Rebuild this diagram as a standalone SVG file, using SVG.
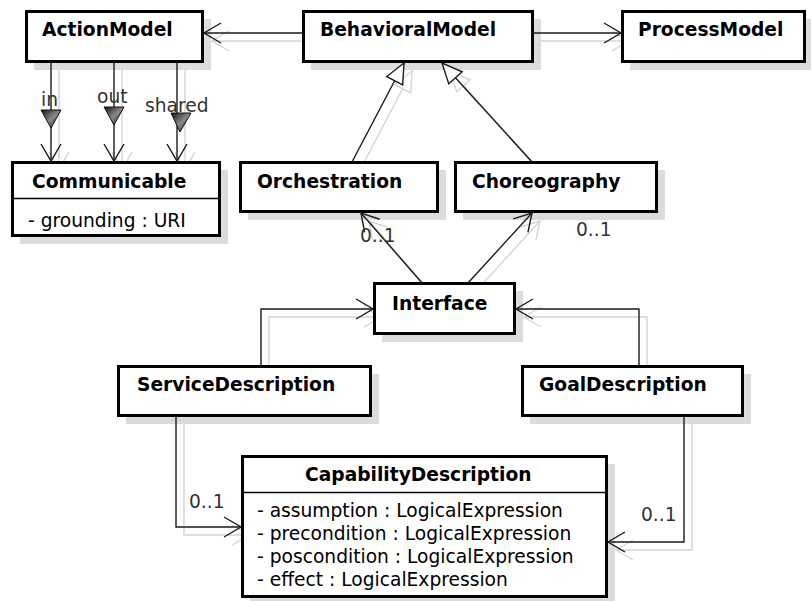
<svg xmlns="http://www.w3.org/2000/svg" width="811" height="601" viewBox="0 0 811 601">
<style>
  .box { fill: #fff; stroke: #000; stroke-width: 3; }
  .shadow { fill: #dcdcdc; }
  .name { font-family: "DejaVu Sans", Verdana, sans-serif; font-weight: bold; font-size: 18.67px; fill: #000; }
  .attr { font-family: "DejaVu Sans", Verdana, sans-serif; font-size: 18.67px; fill: #000; }
  .lbl { font-family: "DejaVu Sans", Verdana, sans-serif; font-size: 18.67px; fill: #333; }
  .div { stroke: #000; stroke-width: 1.5; }
  .conn { fill: none; stroke: #1a1a1a; stroke-width: 1.4; }
  .sconn { fill: none; stroke: #d4d4d4; stroke-width: 1.4; }
</style>
<defs>
  <marker id="open" viewBox="-20 -12 22 24" refX="0" refY="0" markerWidth="22" markerHeight="24" markerUnits="userSpaceOnUse" orient="auto">
    <path d="M-17,-10 L0,0 L-17,10" fill="none" stroke="#1a1a1a" stroke-width="1.4"/>
  </marker>
  <marker id="openS" viewBox="-20 -12 22 24" refX="0" refY="0" markerWidth="22" markerHeight="24" markerUnits="userSpaceOnUse" orient="auto">
    <path d="M-17,-10 L0,0 L-17,10" fill="none" stroke="#d4d4d4" stroke-width="1.4"/>
  </marker>
  <marker id="gen" viewBox="-22 -11 24 22" refX="0" refY="0" markerWidth="24" markerHeight="22" markerUnits="userSpaceOnUse" orient="auto">
    <path d="M0,0 L-20,-9 L-20,9 Z" fill="#fff" stroke="#1a1a1a" stroke-width="1.4"/>
  </marker>
  <marker id="genS" viewBox="-22 -11 24 22" refX="0" refY="0" markerWidth="24" markerHeight="22" markerUnits="userSpaceOnUse" orient="auto">
    <path d="M0,0 L-20,-9 L-20,9 Z" fill="#fff" stroke="#d4d4d4" stroke-width="1.4"/>
  </marker>
  <linearGradient id="tri" x1="0" y1="0" x2="1" y2="1">
    <stop offset="0" stop-color="#111"/>
    <stop offset="0.5" stop-color="#888"/>
    <stop offset="1" stop-color="#222"/>
  </linearGradient>
</defs>
<rect width="811" height="601" fill="#fff"/>

<g id="connector-shadows" transform="translate(8,8)">
  <path class="sconn" d="M303,33 L204,33" marker-end="url(#openS)"/>
  <path class="sconn" d="M533,33 L621,33" marker-end="url(#openS)"/>
  <path class="sconn" d="M51,62 L51,161" marker-end="url(#openS)"/>
  <path class="sconn" d="M114,62 L114,161" marker-end="url(#openS)"/>
  <path class="sconn" d="M177,62 L177,161" marker-end="url(#openS)"/>
  <path class="sconn" d="M352,162 L404,63" marker-end="url(#genS)"/>
  <path class="sconn" d="M532,162 L442,63" marker-end="url(#genS)"/>
  <path class="sconn" d="M422,283 L361,213" marker-end="url(#openS)"/>
  <path class="sconn" d="M468,283 L532,213" marker-end="url(#openS)"/>
  <path class="sconn" d="M261,366 V309 H373" marker-end="url(#openS)"/>
  <path class="sconn" d="M639,366 V309 H516" marker-end="url(#openS)"/>
  <path class="sconn" d="M176,416 V527 H241" marker-end="url(#openS)"/>
  <path class="sconn" d="M684,416 V542 H608" marker-end="url(#openS)"/>
</g>

<g id="ActionModel">
  <rect class="shadow" x="34" y="19" width="177" height="51"/>
  <rect class="box" x="26.5" y="11.5" width="176" height="50"/>
  <text class="name" x="42" y="36">ActionModel</text>
</g>
<g id="BehavioralModel">
  <rect class="shadow" x="311" y="19" width="230" height="51"/>
  <rect class="box" x="303.5" y="11.5" width="229" height="50"/>
  <text class="name" x="320" y="36">BehavioralModel</text>
</g>
<g id="ProcessModel">
  <rect class="shadow" x="630" y="19" width="183" height="51"/>
  <rect class="box" x="622.5" y="11.5" width="182" height="50"/>
  <text class="name" x="638" y="36">ProcessModel</text>
</g>
<g id="Communicable">
  <rect class="shadow" x="20" y="170" width="208" height="74"/>
  <rect class="box" x="12.5" y="162.5" width="207" height="73"/>
  <line class="div" x1="12" y1="198.5" x2="220" y2="198.5"/>
  <text class="name" x="32" y="188">Communicable</text>
  <text class="attr" x="28" y="227">- grounding : URI</text>
</g>
<g id="Orchestration">
  <rect class="shadow" x="248" y="170" width="198" height="50"/>
  <rect class="box" x="240.5" y="162.5" width="197" height="49"/>
  <text class="name" x="257" y="188">Orchestration</text>
</g>
<g id="Choreography">
  <rect class="shadow" x="463" y="170" width="202" height="50"/>
  <rect class="box" x="455.5" y="162.5" width="201" height="49"/>
  <text class="name" x="472" y="188">Choreography</text>
</g>
<g id="Interface">
  <rect class="shadow" x="382" y="291" width="141" height="51"/>
  <rect class="box" x="374.5" y="283.5" width="140" height="50"/>
  <text class="name" x="392" y="310">Interface</text>
</g>
<g id="ServiceDescription">
  <rect class="shadow" x="126" y="374" width="253" height="50"/>
  <rect class="box" x="118.5" y="366.5" width="252" height="49"/>
  <text class="name" x="137" y="391">ServiceDescription</text>
</g>
<g id="GoalDescription">
  <rect class="shadow" x="530" y="374" width="221" height="50"/>
  <rect class="box" x="522.5" y="366.5" width="220" height="49"/>
  <text class="name" x="539" y="391">GoalDescription</text>
</g>
<g id="CapabilityDescription">
  <rect class="shadow" x="250" y="464" width="365" height="141"/>
  <rect class="box" x="242.5" y="456.5" width="364" height="140"/>
  <line class="div" x1="242" y1="492.5" x2="607" y2="492.5"/>
  <text class="name" x="305" y="481">CapabilityDescription</text>
  <text class="attr" x="257" y="517">- assumption : LogicalExpression</text>
  <text class="attr" x="257" y="540">- precondition : LogicalExpression</text>
  <text class="attr" x="257" y="563">- poscondition : LogicalExpression</text>
  <text class="attr" x="257" y="586">- effect : LogicalExpression</text>
</g>

<g id="connectors">
  <path class="conn" d="M303,33 L204,33" marker-end="url(#open)"/>
  <path class="conn" d="M533,33 L621,33" marker-end="url(#open)"/>
  <path class="conn" d="M51,62 L51,161" marker-end="url(#open)"/>
  <path class="conn" d="M114,62 L114,161" marker-end="url(#open)"/>
  <path class="conn" d="M177,62 L177,161" marker-end="url(#open)"/>
  <polygon points="41,110 61,110 51,128" fill="url(#tri)" stroke="#111" stroke-width="1"/>
  <polygon points="104,107 124,107 114,125" fill="url(#tri)" stroke="#111" stroke-width="1"/>
  <polygon points="171,113 191,113 180,132" fill="url(#tri)" stroke="#111" stroke-width="1"/>
  <text class="lbl" x="41" y="106">in</text>
  <text class="lbl" x="97" y="103">out</text>
  <text class="lbl" x="145" y="112">shared</text>
  <path class="conn" d="M352,162 L404,63" marker-end="url(#gen)"/>
  <path class="conn" d="M532,162 L442,63" marker-end="url(#gen)"/>
  <path class="conn" d="M422,283 L361,213" marker-end="url(#open)"/>
  <path class="conn" d="M468,283 L532,213" marker-end="url(#open)"/>
  <text class="lbl" x="360" y="242">0..1</text>
  <text class="lbl" x="576" y="236">0..1</text>
  <path class="conn" d="M261,366 V309 H373" marker-end="url(#open)"/>
  <path class="conn" d="M639,366 V309 H516" marker-end="url(#open)"/>
  <path class="conn" d="M176,416 V527 H241" marker-end="url(#open)"/>
  <path class="conn" d="M684,416 V542 H608" marker-end="url(#open)"/>
  <text class="lbl" x="189" y="508">0..1</text>
  <text class="lbl" x="641" y="521">0..1</text>
</g>
</svg>
